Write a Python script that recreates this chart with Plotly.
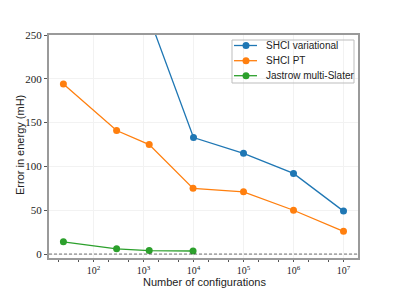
import plotly.graph_objects as go

configs = [25, 290, 1300, 9800, 1e5, 1e6, 1e7]
shci_var_x = [1300, 1e4, 1e5, 1e6, 1e7]
shci_var = [270, 133, 115, 92, 49]
shci_pt = [194, 141, 125, 75, 71, 50, 26]
jastrow_x = [25, 290, 1300, 9800]
jastrow = [14, 6, 4, 3.5]

names = ["SHCI variational", "SHCI PT", "Jastrow multi-Slater"]
colors = ["#1f77b4", "#ff7f0e", "#2ca02c"]

tickvals = [1e2, 1e3, 1e4, 1e5, 1e6, 1e7]
ticktext = ["10<sup>2</sup>", "10<sup>3</sup>", "10<sup>4</sup>", "10<sup>5</sup>", "10<sup>6</sup>", "10<sup>7</sup>"]
yticks = [0, 50, 100, 150, 200, 250]

W, H = 399, 290
L, R, T, B = 49, 41, 35, 32
PW, PH = W - L - R, H - T - B

def px(x):
    return (x - L) / PW

def py(y):
    return (H - B - y) / PH

fig = go.Figure()
mk = dict(size=7)
series = [(shci_var_x, shci_var), (configs, shci_pt), (jastrow_x, jastrow)]
for (xs, ys), nm, c in zip(series, names, colors):
    fig.add_trace(go.Scatter(x=xs, y=ys, mode="lines+markers", name=nm, showlegend=False,
                             line=dict(color=c, width=1.3), marker=dict(color=c, **mk)))

fig.add_hline(y=0, line=dict(color="#333333", width=0.7, dash="3px,2px"))

# manual legend (matplotlib style)
bx0, bx1, by0, by1 = 232, 354, 40, 83
bc = "#bdbdbd"
shapes = [dict(type="rect", xref="paper", yref="paper", x0=px(bx0), x1=px(bx1), y0=py(by1), y1=py(by0),
               line=dict(width=0), fillcolor="rgba(255,255,255,0.85)", layer="above")]
for (xa, ya, xb, yb) in [(bx0, by0, bx1, by0), (bx0, by1, bx1, by1), (bx0, by0, bx0, by1), (bx1, by0, bx1, by1)]:
    shapes.append(dict(type="line", xref="paper", yref="paper", x0=px(xa), x1=px(xb), y0=py(ya), y1=py(yb),
                       line=dict(color=bc, width=1), layer="above"))
annos = []
rows = [45.5, 60.7, 75.7]
r = 3.5
for yr, nm, c in zip(rows, names, colors):
    shapes.append(dict(type="line", xref="paper", yref="paper", x0=px(234), x1=px(257), y0=py(yr), y1=py(yr),
                       line=dict(color=c, width=1.3), layer="above"))
    shapes.append(dict(type="circle", xref="paper", yref="paper", x0=px(246 - r), x1=px(246 + r),
                       y0=py(yr + r), y1=py(yr - r), line=dict(color=c, width=0), fillcolor=c, layer="above"))
    annos.append(dict(text=nm, xref="paper", yref="paper", x=px(264), y=py(yr), xanchor="left", yanchor="middle",
                      showarrow=False, font=dict(family="Liberation Sans", size=10, color="#222")))

annos.append(dict(text="Number of configurations", xref="paper", yref="paper", x=px(204), y=py(282),
                  xanchor="center", yanchor="middle", showarrow=False,
                  font=dict(family="Liberation Sans", size=11, color="#222")))
annos.append(dict(text="Error in energy (mH)", xref="paper", yref="paper", x=px(20), y=py(145),
                  xanchor="center", yanchor="middle", textangle=-90, showarrow=False,
                  font=dict(family="Liberation Sans", size=11, color="#222")))

fig.update_layout(
    width=W, height=H,
    margin=dict(l=L, r=R, t=T, b=B),
    paper_bgcolor="white", plot_bgcolor="white",
    showlegend=False,
    shapes=shapes, annotations=annos,
    font=dict(family="Liberation Sans", color="#222"),
)
fig.update_xaxes(type="log", range=[1.11, 7.29], tickvals=tickvals, ticktext=ticktext,
                 automargin=False,
                 showline=True, mirror=True, linecolor="#9a9a9a", linewidth=2,
                 ticks="outside", ticklen=2, tickcolor="#555",
                 showgrid=True, gridcolor="#f2f2f2", gridwidth=1, zeroline=False,
                 minor=dict(ticks="outside", ticklen=2, tickcolor="#555", showgrid=False),
                 tickfont=dict(family="Liberation Serif", size=10, color="#222"))
fig.update_yaxes(range=[-4.5, 250], tickvals=yticks,
                 automargin=False,
                 showline=True, mirror=True, linecolor="#9a9a9a", linewidth=2,
                 ticks="outside", ticklen=3, tickcolor="#555",
                 showgrid=True, gridcolor="#f2f2f2", gridwidth=1, zeroline=False,
                 tickfont=dict(family="Liberation Serif", size=11, color="#222"))

fig.write_html("out.html", config={"displayModeBar": False},
               post_script="document.body.style.margin='0';document.body.style.overflow='hidden';")
